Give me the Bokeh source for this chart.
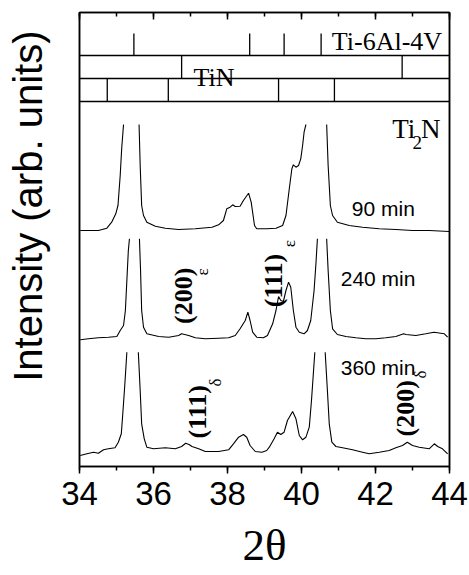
import numpy as np
from bokeh.plotting import figure
from bokeh.models import (Range1d, LinearAxis, SingleIntervalTicker, FixedTicker,
                          Label, Span, ColumnDataSource)
from bokeh.embed import file_html
from bokeh.resources import INLINE

nan = np.nan

# ---- data (2theta in degrees, intensity in arbitrary units, traces stacked) ----
tt_90 = [34.02, 34.51, 34.74, 34.87, 34.98, 35.04, 35.10, 35.14, 35.19, nan,
         35.61, 35.64, 35.68, 35.73, 35.82, 36.05, 36.32, 36.68, 37.13, 37.58,
         37.76, 37.89, 37.98, 38.07, 38.14, 38.21, 38.34, 38.43, 38.57, 38.64,
         38.73, 38.79, 38.95, 39.06, 39.31, 39.49, 39.58, 39.67, 39.74, 39.78,
         39.85, 39.92, 39.98, 40.03, 40.07, 40.12, nan, 40.68, 40.72, 40.78,
         40.84, 40.97, 41.29, 41.65, 42.10, 42.55, 43.00, 43.45, 43.99]
int_90 = [236, 236, 238.3, 244.3, 252.7, 261, 291, 317.7, 342, nan,
          342, 301, 261, 251, 244.3, 240.3, 238.3, 237, 237.7, 239.3,
          241.7, 246, 257.7, 259.3, 261.7, 260, 260.3, 266, 273.3, 264.3,
          241, 237.7, 237.7, 237.7, 238.3, 241, 251, 277.7, 297.7, 301.7,
          299.3, 301, 307.7, 321, 334.3, 342, nan, 342, 301, 261,
          251, 244.3, 241, 239.3, 237.7, 237, 236, 236, 235]

tt_240 = [34.02, 34.24, 34.51, 34.78, 35.01, 35.10, 35.19, 35.24, 35.28, 35.32,
          35.35, nan, 35.62, 35.65, 35.68, 35.73, 35.82, 36.14, 36.41, 36.68,
          36.76, 36.95, 37.13, 37.40, 37.76, 38.03, 38.21, 38.34, 38.48, 38.55,
          38.61, 38.68, 38.79, 38.97, 39.08, 39.22, 39.31, 39.38, 39.44, 39.51,
          39.58, 39.65, 39.71, 39.78, 39.85, 39.94, 40.07, 40.16, 40.25, 40.34,
          40.39, 40.43, nan, 40.68, 40.72, 40.78, 40.84, 40.97, 41.20, 41.47,
          41.74, 42.01, 42.28, 42.55, 42.76, 42.82, 43.09, 43.36, 43.58, 43.86,
          43.95]
int_240 = [126.7, 127.7, 128.7, 129.3, 130, 136, 141, 156, 186, 216,
           227.7, nan, 227.7, 196, 156, 139.3, 132.7, 130, 129.3, 131,
           132.7, 131, 128.7, 127.7, 128.3, 128.7, 131, 137.7, 146, 154.3,
           146, 134.3, 129.3, 128.7, 131, 142.7, 156, 170, 166, 165,
           176, 184.3, 179.3, 156, 139.3, 134.3, 132.7, 136, 146, 176,
           202.7, 227.7, nan, 227.7, 196, 156, 137.7, 132, 130, 128.7,
           127.7, 127.7, 128.7, 130, 132.7, 132, 131, 132.7, 134.3, 132.7,
           129.3]

tt_360 = [34.02, 34.20, 34.38, 34.51, 34.65, 34.78, 34.96, 35.05, 35.13, 35.17,
          35.22, 35.28, nan, 35.59, 35.64, 35.68, 35.75, 35.82, 36.00, 36.32,
          36.59, 36.76, 36.87, 36.96, 37.04, 37.22, 37.40, 37.76, 38.03, 38.16,
          38.30, 38.43, 38.52, 38.61, 38.75, 38.93, 39.06, 39.13, 39.26, 39.35,
          39.44, 39.53, 39.62, 39.76, 39.85, 39.94, 40.03, 40.12, 40.21, 40.27,
          40.32, 40.36, nan, 40.64, 40.70, 40.75, 40.82, 40.93, 41.11, 41.38,
          41.65, 41.83, 42.10, 42.37, 42.55, 42.73, 42.86, 43.00, 43.18, 43.45,
          43.59, 43.68, 43.81, 43.95]
int_360 = [11, 12.7, 14.3, 13.3, 16.7, 17.7, 18.7, 24.3, 32.7, 52.7,
           79.3, 114.3, nan, 114.3, 76, 42.7, 27.7, 19.3, 17.7, 18.7,
           17.7, 20, 23.3, 22, 20, 17.7, 15, 15, 16.7, 22.7,
           29.3, 32, 29.3, 21, 15, 14.3, 16, 19.3, 27.7, 34.3,
           32, 34.3, 46, 55, 47.7, 31, 26.7, 29.3, 39.3, 66,
           92.7, 114.3, nan, 114.3, 76, 42.7, 24.3, 20, 18.7, 16.7,
           14.3, 12.7, 14.3, 16, 18.7, 21, 24.3, 21, 19.3, 17.7,
           22.7, 20, 17.7, 12.7]

# reference pattern line positions (2theta)
ref_ti64 = [35.47, 38.60, 39.53, 40.53]
ref_tin = [36.76, 42.72]
ref_ti2n = [34.75, 36.40, 39.38, 40.89]

time_labels = ["90 min", "240 min", "360 min"]
x_ticks_interval = 2

# ---- figure ----
p = figure(width=469, height=575, x_range=Range1d(34, 44), y_range=Range1d(0, 454),
           output_backend="svg", toolbar_location=None, tools="",
           min_border_left=79, min_border_right=20, min_border_top=12,
           min_border_bottom=109, background_fill_color="white",
           border_fill_color="white")
p.xgrid.visible = False
p.ygrid.visible = False
p.outline_line_color = "black"
p.outline_line_width = 1.5

serif = "Liberation Serif"
sans = "Liberation Sans"

xa = p.xaxis[0]
xa.ticker = SingleIntervalTicker(interval=x_ticks_interval, num_minor_ticks=2)
xa.major_tick_out = 7
xa.major_tick_in = 0
xa.minor_tick_out = 4
xa.minor_tick_in = 0
xa.axis_line_width = 1.5
xa.major_tick_line_width = 1.5
xa.minor_tick_line_width = 1.5
xa.axis_line_color = "black"
xa.major_tick_line_color = "black"
xa.minor_tick_line_color = "black"
xa.major_label_text_font = sans
xa.major_label_text_font_size = "33px"
xa.major_label_text_color = "black"
xa.major_label_standoff = 8
xa.axis_label = "2θ"
xa.axis_label_text_font = serif
xa.axis_label_text_font_size = "45px"
xa.axis_label_text_font_style = "normal"
xa.axis_label_text_color = "black"
xa.axis_label_standoff = 12

ya = p.yaxis[0]
ya.ticker = FixedTicker(ticks=[])
ya.major_tick_out = 0
ya.major_tick_in = 0
ya.minor_tick_out = 0
ya.minor_tick_in = 0
ya.axis_line_width = 1.5
ya.axis_line_color = "black"
ya.major_label_standoff = 0
ya.axis_label = "\u00a0" * 6 + "Intensity (arb. units)"
ya.axis_label_text_font = sans
ya.axis_label_text_font_size = "40px"
ya.axis_label_text_font_style = "normal"
ya.axis_label_text_color = "black"
ya.axis_label_standoff = 30

top = LinearAxis(ticker=SingleIntervalTicker(interval=x_ticks_interval, num_minor_ticks=2),
                 major_tick_in=7, major_tick_out=0, minor_tick_in=4, minor_tick_out=0,
                 major_label_text_font_size="0px", major_label_standoff=0,
                 axis_line_width=1.5, major_tick_line_width=1.5,
                 minor_tick_line_width=1.5)
p.add_layout(top, "above")
right = LinearAxis(ticker=FixedTicker(ticks=[]), major_tick_in=0, major_tick_out=0,
                   minor_tick_in=0, minor_tick_out=0, major_label_standoff=0,
                   axis_line_width=1.5)
p.add_layout(right, "right")

# ---- traces ----
for tt, inten in [(tt_90, int_90), (tt_240, int_240), (tt_360, int_360)]:
    src = ColumnDataSource(dict(x=tt, y=inten))
    p.line("x", "y", source=src, line_color="black", line_width=1.1)

# ---- reference pattern bands ----
for loc in [411, 388, 365]:
    p.add_layout(Span(location=loc, dimension="width", line_color="black", line_width=1.3))
p.segment(x0=ref_ti64, x1=ref_ti64, y0=[411] * len(ref_ti64), y1=[433] * len(ref_ti64),
          line_color="black", line_width=1.3)
p.segment(x0=ref_tin, x1=ref_tin, y0=[388] * len(ref_tin), y1=[411] * len(ref_tin),
          line_color="black", line_width=1.3)
p.segment(x0=ref_ti2n, x1=ref_ti2n, y0=[365] * len(ref_ti2n), y1=[388] * len(ref_ti2n),
          line_color="black", line_width=1.3)

def lab(x, y, text, font, size, align="left", baseline="alphabetic", angle=0, style="normal"):
    p.add_layout(Label(x=x, y=y, text=text, text_font=font, text_font_size=size,
                       text_align=align, text_baseline=baseline, angle=angle,
                       angle_units="deg", text_font_style=style, text_color="black"))

lab(43.80, 425.3, "Ti-6Al-4V", serif, "26px", align="right")
lab(37.08, 389.5, "TiN", serif, "26px")
lab(42.45, 337.5, "Ti", serif, "27px")
lab(43.00, 324.5, "2", serif, "19px")
lab(43.76, 337.5, "N", serif, "27px", align="right")

lab(41.36, 258.5, time_labels[0], sans, "21px")
lab(41.06, 187.7, time_labels[1], sans, "21px")
lab(41.06, 98.7, time_labels[2], sans, "21px")

# rotated peak labels
lab(36.81, 142.5, "(200)", serif, "26px", baseline="middle", angle=90, style="bold")
lab(37.32, 191.0, "ε", serif, "17px", baseline="middle", angle=90)
lab(39.25, 159.3, "(111)", serif, "26px", baseline="middle", angle=90, style="bold")
lab(39.68, 219.3, "ε", serif, "17px", baseline="middle", angle=90)
lab(37.19, 28.0, "(111)", serif, "26px", baseline="middle", angle=90, style="bold")
lab(37.68, 80.0, "δ", serif, "17px", baseline="middle", angle=90)
lab(42.81, 30.0, "(200)", serif, "26px", baseline="middle", angle=90, style="bold")
lab(43.22, 88.0, "δ", serif, "17px", baseline="middle", angle=90)

open("out.html", "w").write(file_html(p, INLINE))
